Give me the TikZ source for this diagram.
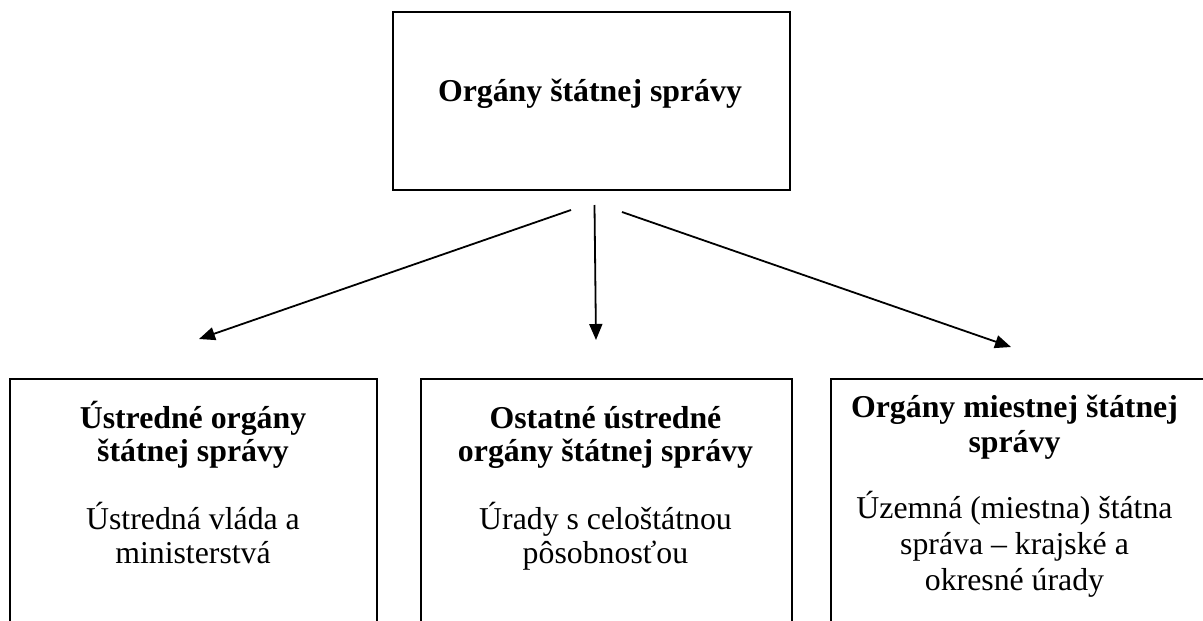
\documentclass[tikz,border=0pt]{standalone}
\usepackage{fontspec}
\setmainfont{Liberation Serif}
\usetikzlibrary{arrows.meta}
\tikzset{
  orgbox/.style={draw=black, line width=2pt, fill=none, inner sep=0pt},
  headline/.style={anchor=base, inner sep=0pt, font=\fontsize{31.8}{34}\selectfont\bfseries},
  bodyline/.style={anchor=base, inner sep=0pt, font=\fontsize{31.8}{34}\selectfont},
  link/.style={line width=1.8pt, -{Triangle[length=16pt,width=13pt]}}
}
\begin{document}
\begin{tikzpicture}[x=1pt,y=-1pt]
\useasboundingbox (0,0) rectangle (1203,621);
\clip (0,0) rectangle (1203,621);

% top box
\node[orgbox, minimum width=397pt, minimum height=178pt] (top) at (591.3,101) {};
\node[headline] (toptxt) at (590,101) {Orgány štátnej správy};

% lower boxes (open at the bottom edge of the page)
\node[orgbox, minimum width=366.5pt, minimum height=300pt, anchor=north west] (left) at (9.3,378) {};
\node[orgbox, minimum width=371pt, minimum height=300pt, anchor=north west] (mid) at (420,378) {};
\node[orgbox, minimum width=400pt, minimum height=300pt, anchor=north west] (right) at (830,378) {};

% left box text
\node[headline] (l1) at (193,428) {Ústredné orgány};
\node[headline] (l2) at (193,461.5) {štátnej správy};
\node[bodyline] (l3) at (193,529) {Ústredná vláda a};
\node[bodyline] (l4) at (193,563) {ministerstvá};

% middle box text
\node[headline] (m1) at (605.5,428) {Ostatné ústredné};
\node[headline] (m2) at (605.5,461.5) {orgány štátnej správy};
\node[bodyline] (m3) at (605.5,529) {Úrady s celoštátnou};
\node[bodyline] (m4) at (605.5,563) {pôsobnosťou};

% right box text
\node[headline] (r1) at (1014.5,417) {Orgány miestnej štátnej};
\node[headline] (r2) at (1014.5,452) {správy};
\node[bodyline] (r3) at (1014.5,518) {Územná (miestna) štátna};
\node[bodyline] (r4) at (1014.5,554) {správa – krajské a};
\node[bodyline] (r5) at (1014.5,590) {okresné úrady};

% arrows
\coordinate (s1) at (571,210);
\coordinate (e1) at (199,339);
\coordinate (s2) at (594.5,205);
\coordinate (e2) at (596,340);
\coordinate (s3) at (622,212);
\coordinate (e3) at (1011,347);
\draw[link] (s1) -- (e1);
\draw[link] (s2) -- (e2);
\draw[link] (s3) -- (e3);
\end{tikzpicture}
\end{document}
